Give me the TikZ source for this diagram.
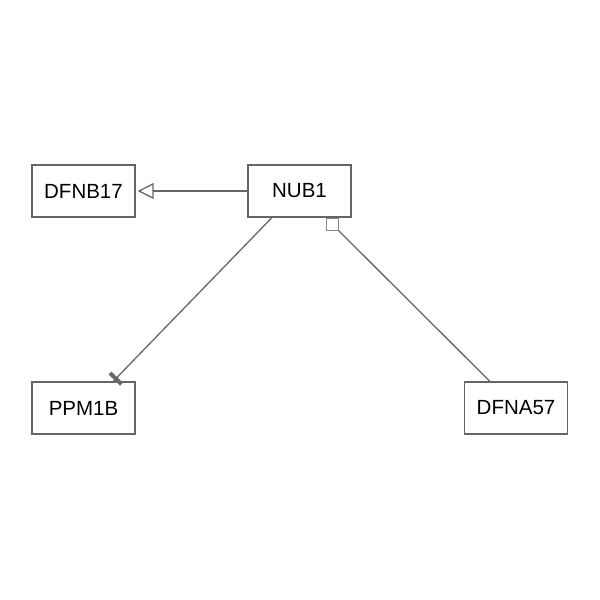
\documentclass[tikz,border=0pt]{standalone}
\usepackage{fontspec}
\setmainfont{Liberation Sans}
\usetikzlibrary{arrows.meta,calc}
\definecolor{edgegray}{HTML}{666666}
\begin{document}
\begin{tikzpicture}[x=1pt,y=-1pt,
  gene/.style={draw=edgegray, line width=1.3pt, fill=white, rectangle,
    minimum width=103pt, minimum height=52pt, inner sep=0pt,
    font=\fontsize{20.5}{24}\selectfont, text=black},
  link/.style={draw=edgegray, line width=1.3pt}]
\useasboundingbox (0,0) rectangle (600,600);
\node[gene] (dfnb) at (83.5,191) {DFNB17};
\node[gene] (nub) at (299.5,191) {NUB1};
\node[gene] (ppm) at (83.5,408) {PPM1B};
\node[gene] (dfna) at (516,408) {DFNA57};
% triangle edge
\coordinate (tri) at ($(dfnb.east)+(2,0)$);
\draw[link, -{Triangle[open, length=16pt, width=16pt, fill=white]}] (nub.west) -- (tri);
% edge to PPM1B with bar
\coordinate (nubs) at (273,216.5);
\coordinate (ppmt) at (113,381.5);
\draw[link] (nubs) -- (ppmt);
\coordinate (barc) at ($(ppmt)!4pt!(nubs)$);
\draw[edgegray, line width=4pt] ($(barc)!8pt!90:(nubs)$) -- ($(barc)!8pt!-90:(nubs)$);
% edge to DFNA57 with square
\coordinate (sqc) at (338,230);
\coordinate (dfnat) at (490,381.5);
\draw[link] (dfnat) -- (sqc);
\draw[draw=edgegray!80, line width=1pt, fill=white] (326,218) rectangle (sqc);
\end{tikzpicture}
\end{document}
